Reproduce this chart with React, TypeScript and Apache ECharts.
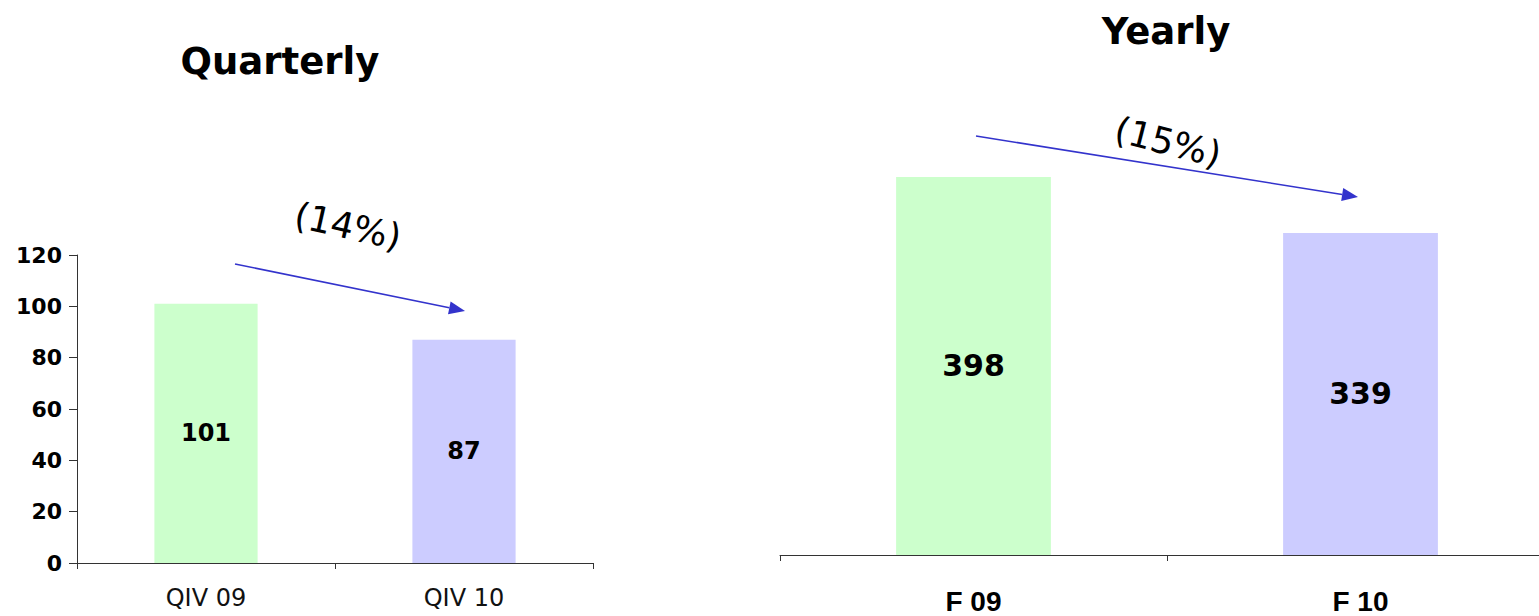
import React, { useEffect, useRef } from "react";
import * as echarts from "echarts";

const quarterCategories = ["QIV 09", "QIV 10"];
const quarterValues = [101, 87];
const yearCategories = ["F 09", "F 10"];
const yearValues = [398, 339];
const barColors = ["#ccffcc", "#ccccff"];
const quarterTicks = [0, 20, 40, 60, 80, 100, 120];
const titles = ["Quarterly", "Yearly"];
const changes = ["(14%)", "(15%)"];

const ARROW = "#3333cc";

function arrow(x1: number, y1: number, x2: number, y2: number) {
  const ang = Math.atan2(y2 - y1, x2 - x1);
  const len = 16;
  const half = 6.5;
  const bx = x2 - len * Math.cos(ang);
  const by = y2 - len * Math.sin(ang);
  const px = -Math.sin(ang) * half;
  const py = Math.cos(ang) * half;
  return [
    {
      type: "line",
      shape: { x1, y1, x2: bx, y2: by },
      style: { stroke: ARROW, lineWidth: 1.6 },
    },
    {
      type: "polygon",
      shape: { points: [[x2, y2], [bx + px, by + py], [bx - px, by - py]] },
      style: { fill: ARROW },
    },
  ];
}

export default function App() {
  const ref = useRef<HTMLDivElement>(null);
  useEffect(() => {
    if (!ref.current) return;
    const chart = echarts.init(ref.current, null, { renderer: "svg" });
    const font = "DejaVu Sans";
    chart.setOption({
      animation: false,
      backgroundColor: "#ffffff",
      grid: [
        { left: 77, top: 255, width: 516, height: 308, containLabel: false, outerBoundsMode: "none" },
        { left: 780, top: 80, width: 774, height: 475, containLabel: false, outerBoundsMode: "none" },
      ],
      xAxis: [
        {
          type: "category",
          gridIndex: 0,
          data: quarterCategories,
          axisLine: { lineStyle: { color: "#333333", width: 1 } },
          axisTick: { show: true, length: 6, lineStyle: { color: "#333333" } },
          axisLabel: { fontFamily: font, fontSize: 24, color: "#111111", margin: 23 },
        },
        {
          type: "category",
          gridIndex: 1,
          data: yearCategories,
          axisLine: { lineStyle: { color: "#333333", width: 1 } },
          axisTick: { show: true, length: 6, lineStyle: { color: "#333333" } },
          axisLabel: {
            fontFamily: "Liberation Sans",
            fontWeight: "bold",
            fontSize: 28,
            lineHeight: 28,
            color: "#000000",
            margin: 32,
          },
        },
      ],
      yAxis: [
        {
          type: "value",
          gridIndex: 0,
          min: quarterTicks[0],
          max: quarterTicks[quarterTicks.length - 1],
          interval: 20,
          axisLine: { show: true, lineStyle: { color: "#333333", width: 1 } },
          axisTick: { show: true, length: 8, lineStyle: { color: "#333333" } },
          splitLine: { show: false },
          axisLabel: {
            fontFamily: font,
            fontWeight: "bold",
            fontSize: 22,
            color: "#000000",
            margin: 15,
          },
        },
        {
          type: "value",
          gridIndex: 1,
          min: 0,
          max: 500,
          show: false,
          splitLine: { show: false },
        },
      ],
      series: [
        {
          type: "bar",
          xAxisIndex: 0,
          yAxisIndex: 0,
          barWidth: "40%",
          data: quarterValues.map((v, i) => ({ value: v, itemStyle: { color: barColors[i] } })),
          label: {
            show: true,
            position: "inside",
            fontFamily: font,
            fontWeight: "bold",
            fontSize: 24,
            color: "#000000",
          },
        },
        {
          type: "bar",
          xAxisIndex: 1,
          yAxisIndex: 1,
          barWidth: "40%",
          data: yearValues.map((v, i) => ({ value: v, itemStyle: { color: barColors[i] } })),
          label: {
            show: true,
            position: "inside",
            fontFamily: font,
            fontWeight: "bold",
            fontSize: 30,
            color: "#000000",
          },
        },
      ],
      graphic: [
        {
          type: "text",
          x: 280,
          y: 61,
          style: {
            text: titles[0],
            fontFamily: font,
            fontWeight: "bold",
            fontSize: 37,
            fill: "#000000",
            textAlign: "center",
            textVerticalAlign: "middle",
          },
        },
        {
          type: "text",
          x: 1166,
          y: 31,
          style: {
            text: titles[1],
            fontFamily: font,
            fontWeight: "bold",
            fontSize: 37,
            fill: "#000000",
            textAlign: "center",
            textVerticalAlign: "middle",
          },
        },
        {
          type: "text",
          x: 348,
          y: 226,
          rotation: -0.22,
          style: {
            text: changes[0],
            fontFamily: font,
            fontSize: 36,
            fill: "#000000",
            textAlign: "center",
            textVerticalAlign: "middle",
          },
        },
        {
          type: "text",
          x: 1168,
          y: 142,
          rotation: -0.25,
          style: {
            text: changes[1],
            fontFamily: font,
            fontSize: 36,
            fill: "#000000",
            textAlign: "center",
            textVerticalAlign: "middle",
          },
        },
        ...arrow(235, 264, 465, 311),
        ...arrow(976, 136, 1358, 197),
      ],
    });
    return () => chart.dispose();
  }, []);
  return (
    <div
      ref={ref}
      style={{ position: "absolute", left: 0, top: 0, width: 1539, height: 616 }}
    />
  );
}
